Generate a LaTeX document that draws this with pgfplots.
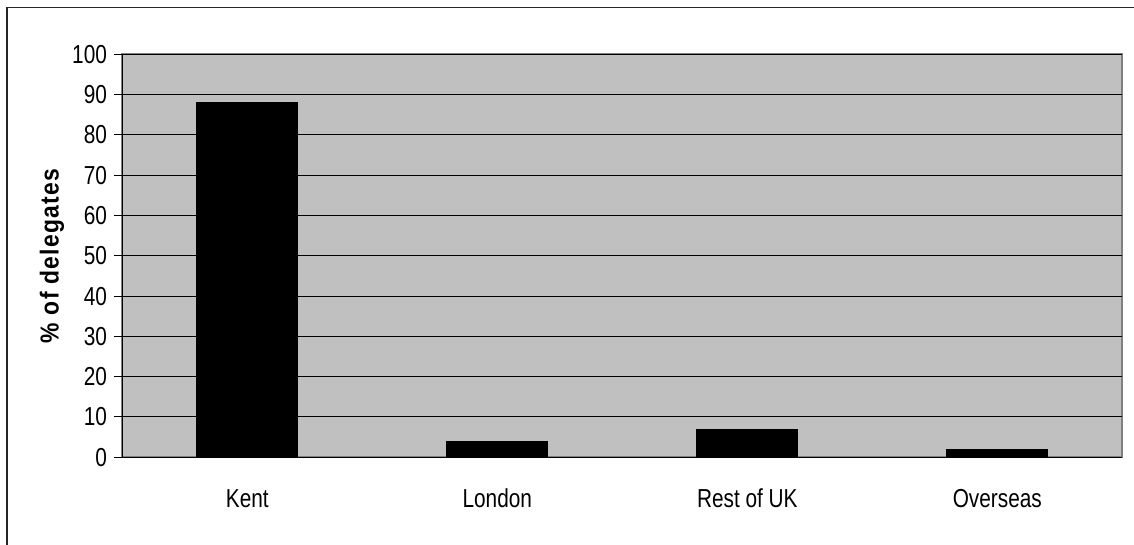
\documentclass[border=0pt]{standalone}
\usepackage{pgfplots}
\pgfplotsset{compat=1.18}
\usepackage{fontspec}
\setmainfont{Liberation Sans}[FakeStretch=0.8]
\newfontfamily\labelfont{Liberation Sans}[FakeStretch=0.88, LetterSpace=5]
\definecolor{plotgray}{HTML}{C0C0C0}
\definecolor{framegray}{HTML}{808080}
\begin{document}
\begin{tikzpicture}
% canvas: 1134 x 545 units at 0.5pt each
\useasboundingbox (0,0) rectangle (567pt,272.5pt);
\draw[black!85, line width=0.8pt] (3.5pt,-5pt) -- (3.5pt,268.8pt) -- (575pt,268.8pt);
\begin{axis}[
  at={(61.15pt,43.85pt)}, anchor=south west,
  scale only axis, width=500pt, height=201.5pt,
  xmin=0, xmax=4, ymin=0, ymax=100,
  axis lines=left, axis line style={-, black, line width=0.6pt},
  axis background/.style={fill=plotgray, draw=framegray, line width=0.9pt},
  ytick={0,10,...,100},
  ymajorgrids, major grid style={black, line width=0.5pt},
  tick align=outside,
  major tick length=4pt,
  tick style={black, line width=0.5pt},
  xtick={0.5,1.5,2.5,3.5},
  xticklabels={Kent,London,Rest of UK,Overseas},
  x tick style={draw=none},
  minor xtick={0,1,2,3,4},
  minor tick length=4.5pt,
  minor x tick style={black, line width=0.5pt},
  /pgf/number format/assume math mode=true,
  tick label style={font=\fontsize{13}{15}\selectfont, inner sep=0pt},
  yticklabel style={anchor=east, xshift=-3.5pt},
  xticklabel style={anchor=base, yshift=-21pt},
  ylabel={\% of delegates},
  ylabel style={font=\labelfont\bfseries\fontsize{13}{15}\selectfont,
    at={(axis description cs:-0.0703,0.5)}, rotate=0, anchor=center},
  bar width=0.404,
]
\addplot[ybar, fill=black, draw=black, line width=0.4pt]
  coordinates {(0.5,88) (1.5,4) (2.5,7) (3.5,2)};
\end{axis}
\end{tikzpicture}
\end{document}
